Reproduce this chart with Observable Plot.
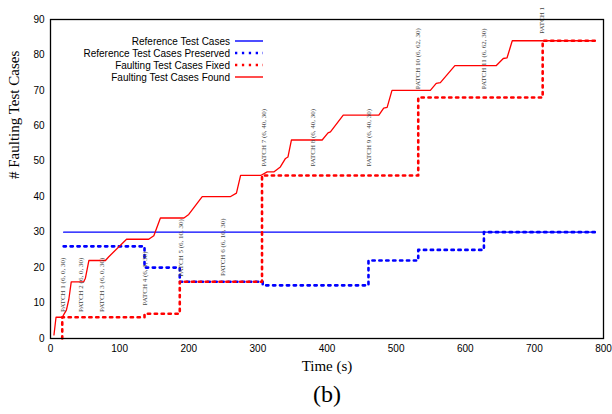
<!DOCTYPE html>
<html><head><meta charset="utf-8">
<script src="https://cdn.jsdelivr.net/npm/d3@7"></script>
<script src="https://cdn.jsdelivr.net/npm/@observablehq/plot@0.6"></script>
<style>body{margin:0;background:#fff}</style>
</head><body><div id="chart"></div>
<script>
// ---- data ----
const xTicks = [0, 100, 200, 300, 400, 500, 600, 700, 800];
const yTicks = [0, 10, 20, 30, 40, 50, 60, 70, 80, 90];

const refT = [19, 788];
const refV = [30, 30];

const presT = [19, 136, 187, 307, 460, 532, 627, 788];
const presV = [26, 20, 16, 15, 22, 25, 30, 30];

const fixT = [17, 17, 136, 187, 306, 532, 712, 788];
const fixV = [0, 6, 7, 16, 46, 68, 84, 84];

const foundT = [5, 8, 17, 20, 23, 26.5, 30, 48, 50.5, 55.5, 79.5, 84, 110, 142, 149.5, 159, 193, 200, 219.5, 260, 269, 275, 304, 313.5, 323, 332.5, 340, 343.5, 348.5, 393, 401.5, 405, 423.5, 475, 482, 487, 494, 549.5, 558, 564, 585, 645, 655, 660.5, 668, 787];
const foundV = [1, 6, 6, 7, 8, 11, 16, 16, 17, 22, 22, 23, 28, 28, 29, 34, 34, 35, 40, 40, 41, 46, 46, 47, 47, 48.4, 50.8, 51.2, 56, 56, 58, 58.3, 63, 63, 65, 65.2, 70, 70, 72, 72.2, 77, 77, 79, 79.2, 84, 84];

const patchNames = ["PATCH 1 (6, 0, 30)", "PATCH 2 (6, 0, 30)", "PATCH 3 (6, 0, 30)", "PATCH 4 (6, 1, 30)",
  "PATCH 5 (6, 10, 30)", "PATCH 6 (6, 10, 30)", "PATCH 7 (6, 40, 30)", "PATCH 8 (6, 40, 30)",
  "PATCH 9 (6, 40, 30)", "PATCH 10 (6, 62, 30)", "PATCH 11 (6, 62, 30)", "PATCH 1"];
const patchT = [18, 44, 74, 136, 188, 249, 308, 380, 460, 532, 627, 711];
const patchY = [7.5, 7.5, 7.5, 9.3, 17.4, 17.6, 48.5, 48.5, 48.5, 70.3, 70.3, 86];

const legendLabels = ["Reference Test Cases", "Reference Test Cases Preserved", "Faulting Test Cases Fixed", "Faulting Test Cases Found"];
const legendColors = ["#0000ff", "#0000ff", "#ff0000", "#ff0000"];
const legendDotted = [false, true, true, false];

const xLabel = "Time (s)";
const yLabel = "# Faulting Test Cases";
const caption = "(b)";

// ---- tables ----
const pts = (T, V) => T.map((t, i) => ({t, v: V[i]}));
const refData = pts(refT, refV);
const presData = pts(presT, presV);
const fixData = pts(fixT, fixV);
const foundData = pts(foundT, foundV);
const patches = patchNames.map((name, i) => ({name, t: patchT[i], v: patchY[i]}));

const SANS = "'Liberation Sans', Arial, sans-serif";
const SERIF = "'Liberation Serif', 'Times New Roman', serif";
const DOT = "2.3 4.6";
const DOTW = 2.6;

function legendMark(index, scales, values, dimensions) {
  const left = dimensions && dimensions.marginLeft != null ? dimensions.marginLeft : 50;
  const top = dimensions && dimensions.marginTop != null ? dimensions.marginTop : 19;
  const g = d3.create("svg:g");
  legendLabels.forEach((lab, i) => {
    const yy = top + 22 + i * 12;
    g.append("text")
      .attr("x", left + 180).attr("y", yy)
      .attr("dy", "0.35em")
      .attr("text-anchor", "end")
      .attr("font-family", SANS).attr("font-size", 10).attr("fill", "black")
      .text(lab);
    g.append("line")
      .attr("x1", left + 185).attr("x2", left + 213)
      .attr("y1", yy).attr("y2", yy)
      .attr("stroke", legendColors[i])
      .attr("stroke-width", legendDotted[i] ? DOTW : 1.4)
      .attr("stroke-dasharray", legendDotted[i] ? DOT : null);
  });
  return g.node();
}

const chart = Plot.plot({
  width: 612,
  height: 414,
  marginLeft: 50,
  marginRight: 9,
  marginTop: 19,
  marginBottom: 76,
  style: {fontFamily: SANS, fontSize: "10px", color: "black", background: "white", overflow: "hidden"},
  x: {domain: [0, 800], ticks: xTicks, tickSize: 0, tickPadding: 6, label: null},
  y: {domain: [0, 90], ticks: yTicks, tickSize: 0, tickPadding: 6, label: null},
  marks: [
    Plot.line(refData, {x: "t", y: "v", stroke: "#0000ff", strokeWidth: 1.3}),
    Plot.line(presData, {x: "t", y: "v", curve: "step-after", stroke: "#0000ff", strokeWidth: DOTW, strokeDasharray: DOT}),
    Plot.line(fixData, {x: "t", y: "v", curve: "step-after", stroke: "#ff0000", strokeWidth: DOTW, strokeDasharray: DOT}),
    Plot.line(foundData, {x: "t", y: "v", stroke: "#ff0000", strokeWidth: 1.3}),
    Plot.text(patches, {x: "t", y: "v", text: "name", rotate: -90, textAnchor: "start", fontFamily: SERIF, fontSize: 7, fill: "#444"}),
    Plot.frame({stroke: "black", strokeWidth: 1.3}),
    Plot.text([xLabel], {frameAnchor: "bottom", dy: 32, fontFamily: SERIF, fontSize: 15, fill: "black"}),
    Plot.text([caption], {frameAnchor: "bottom", dy: 63, fontFamily: SERIF, fontSize: 24, fill: "black"}),
    Plot.text([yLabel], {frameAnchor: "left", dx: -36, rotate: -90, fontFamily: SERIF, fontSize: 15, fill: "black"}),
    legendMark
  ]
});
document.getElementById("chart").appendChild(chart);
</script>
</body></html>
